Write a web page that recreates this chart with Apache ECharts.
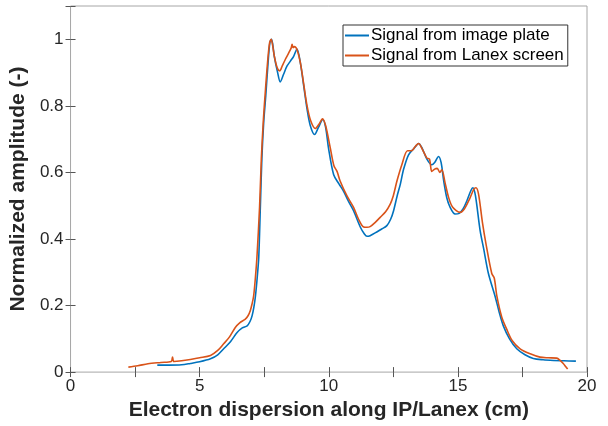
<!DOCTYPE html>
<html><head><meta charset="utf-8">
<script src="https://cdn.jsdelivr.net/npm/echarts@6/dist/echarts.min.js"></script>
<style>html,body{margin:0;padding:0;background:#fff}#c{width:608px;height:426px}</style>
</head><body><div id="c"></div>
<script>
var seriesNames = ["Signal from image plate", "Signal from Lanex screen"];
var ipX = [3.36,3.8,4.3,4.64,5.0,5.42,5.7,5.93,6.2,6.45,6.65,6.84,6.95,7.03,7.1,7.16,7.23,7.29,7.35,7.41,7.48,7.56,7.65,7.72,7.78,7.83,7.89,8.02,8.12,8.25,8.38,8.52,8.64,8.77,8.9,9.03,9.16,9.28,9.45,9.6,9.77,9.88,9.99,10.19,10.4,10.57,10.75,10.96,11.22,11.38,11.48,11.6,11.86,12.05,12.25,12.4,12.51,12.65,12.77,12.9,13.09,13.3,13.48,13.6,13.8,13.99,14.1,14.25,14.35,14.45,14.57,14.7,14.89,15.05,15.2,15.35,15.5,15.58,15.68,15.86,16.0,16.18,16.44,16.6,16.76,17.0,17.28,17.6,17.92,18.3,18.7,19.1,19.57];
var ipY = [0.021,0.021,0.022,0.026,0.031,0.040,0.052,0.070,0.092,0.119,0.133,0.139,0.152,0.169,0.195,0.228,0.285,0.347,0.495,0.643,0.75,0.83,0.93,0.99,1.0,0.985,0.949,0.9,0.872,0.895,0.919,0.935,0.949,0.971,0.929,0.86,0.79,0.742,0.714,0.735,0.759,0.735,0.673,0.593,0.565,0.544,0.515,0.485,0.436,0.415,0.408,0.41,0.421,0.43,0.44,0.46,0.485,0.53,0.564,0.61,0.653,0.672,0.687,0.675,0.64,0.623,0.63,0.648,0.63,0.575,0.524,0.495,0.475,0.477,0.49,0.515,0.545,0.554,0.53,0.426,0.37,0.297,0.228,0.18,0.139,0.1,0.07,0.052,0.041,0.037,0.035,0.034,0.033];
var lxX = [2.24,2.6,3.0,3.5,3.9,3.95,4.0,4.3,4.64,5.0,5.42,5.7,5.93,6.15,6.38,6.55,6.77,6.88,6.96,7.03,7.09,7.16,7.22,7.32,7.39,7.47,7.55,7.64,7.71,7.77,7.82,7.89,8.0,8.1,8.2,8.32,8.45,8.55,8.58,8.62,8.67,8.77,8.9,9.03,9.16,9.3,9.48,9.62,9.76,9.88,10.06,10.2,10.32,10.44,10.7,10.96,11.15,11.35,11.48,11.6,11.8,11.99,12.2,12.38,12.5,12.64,12.83,13.05,13.2,13.35,13.48,13.62,13.8,13.9,13.99,14.1,14.2,14.3,14.38,14.5,14.64,14.8,15.09,15.25,15.45,15.62,15.7,15.8,15.95,16.1,16.31,16.41,16.51,16.7,16.89,17.1,17.41,17.8,18.18,18.5,18.83,18.95,19.08,19.18,19.25];
var lxY = [0.015,0.019,0.025,0.029,0.032,0.045,0.032,0.034,0.038,0.043,0.050,0.065,0.085,0.105,0.134,0.148,0.159,0.17,0.184,0.205,0.228,0.285,0.347,0.495,0.643,0.76,0.85,0.94,0.99,1.0,0.985,0.95,0.915,0.905,0.92,0.94,0.959,0.975,0.985,0.975,0.978,0.969,0.93,0.865,0.80,0.755,0.732,0.745,0.761,0.74,0.673,0.62,0.603,0.574,0.53,0.495,0.46,0.436,0.435,0.437,0.45,0.465,0.482,0.505,0.53,0.574,0.623,0.665,0.665,0.678,0.687,0.67,0.643,0.64,0.603,0.61,0.612,0.6,0.608,0.57,0.525,0.495,0.48,0.49,0.52,0.55,0.554,0.535,0.45,0.38,0.297,0.282,0.228,0.165,0.129,0.095,0.070,0.055,0.045,0.043,0.042,0.036,0.026,0.016,0.009];
var xTitle = "Electron dispersion along IP/Lanex (cm)";
var yTitle = "Normalized amplitude (-)";

function pairs(xs, ys){ return xs.map(function(x,i){ return [x, ys[i]]; }); }
var FONT = "Liberation Sans";
var axisGray = "#a6a6a6";
var chart = echarts.init(document.getElementById('c'), null, {renderer:'canvas'});
var baseX = {type:'value', min:0, max:20, interval:2.5,
  axisLine:{show:false},
  axisTick:{show:true, inside:true, length:5, lineStyle:{color:'#555', width:1}},
  splitLine:{show:false}};
var baseY = {type:'value', min:0, max:1.1, interval:0.2,
  axisLine:{show:false},
  axisTick:{show:true, inside:true, length:5, lineStyle:{color:'#555', width:1}},
  splitLine:{show:false}};
chart.setOption({
  animation:false,
  backgroundColor:'#fff',
  textStyle:{fontFamily:FONT},
  grid:{left:70, right:21, top:6, bottom:49, containLabel:false, show:true, borderColor:axisGray, borderWidth:1, backgroundColor:'transparent'},
  legend:{
    data:seriesNames, orient:'vertical', left:343, top:25,
    backgroundColor:'#fff', borderColor:'#333', borderWidth:1,
    padding:[2,4,2,2], itemGap:3, itemWidth:24, itemHeight:2, icon:'rect',
    textStyle:{fontFamily:FONT, fontSize:17, color:'#000', padding:[0,0,0,-3]}
  },
  xAxis:[
    Object.assign({}, baseX, {position:'bottom', name:xTitle, nameLocation:'middle', nameGap:27,
      nameTextStyle:{fontFamily:FONT, fontSize:21, fontWeight:'bold', color:'#262626'},
      axisLabel:{show:true, margin:6, fontFamily:FONT, fontSize:17, color:'#262626',
        formatter:function(v){ return (Math.abs(v % 5) < 1e-9) ? String(v) : ''; }}}),
    Object.assign({}, baseX, {position:'top', axisLabel:{show:false}})
  ],
  yAxis:[
    Object.assign({}, baseY, {position:'left', name:yTitle, nameLocation:'middle', nameGap:33,
      nameTextStyle:{fontFamily:FONT, fontSize:21, fontWeight:'bold', color:'#262626'},
      axisLabel:{show:true, margin:7, fontFamily:FONT, fontSize:17, color:'#262626',
        formatter:function(v){ return v > 1.05 ? '' : String(+v.toFixed(1)); }}}),
    Object.assign({}, baseY, {position:'right', axisLabel:{show:false}})
  ],
  series:[
    {name:seriesNames[0], type:'line', data:pairs(ipX, ipY), showSymbol:false, smooth:0.3,
      lineStyle:{color:'#0072BD', width:1.6}, itemStyle:{color:'#0072BD'}, z:2},
    {name:seriesNames[1], type:'line', data:pairs(lxX, lxY), showSymbol:false, smooth:0.3,
      lineStyle:{color:'#D95319', width:1.6}, itemStyle:{color:'#D95319'}, z:3}
  ]
});
</script></body></html>
